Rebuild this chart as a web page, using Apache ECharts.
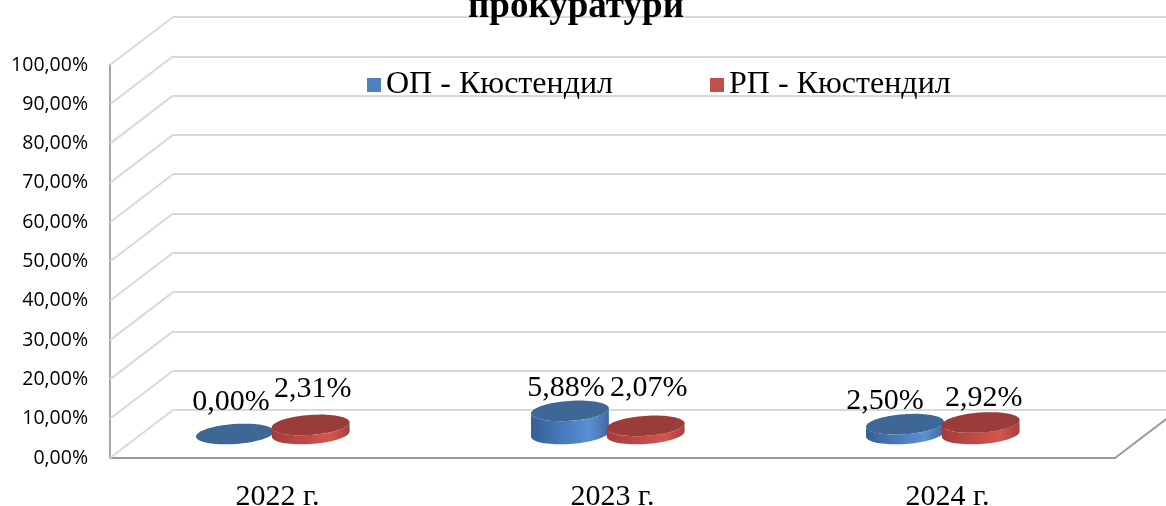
<!DOCTYPE html>
<html>
<head>
<meta charset="utf-8">
<script src="https://cdn.jsdelivr.net/npm/echarts@6/dist/echarts.min.js"></script>
<style>
  html, body { margin: 0; padding: 0; background: #ffffff; }
  #chart { width: 1166px; height: 506px; }
</style>
</head>
<body>
<div id="chart"></div>
<script>
// Categories, series values (percent) and value-axis ticks
const categories = ['2022 г.', '2023 г.', '2024 г.'];
const opValues = [0.00, 5.88, 2.50];
const rpValues = [2.31, 2.07, 2.92];
const seriesNames = ['ОП - Кюстендил', 'РП - Кюстендил'];
const yTicks = [0, 10, 20, 30, 40, 50, 60, 70, 80, 90, 100];

// Pseudo-3D box: the front plane is the main grid, the back wall is shifted by DEPTH
const DEPTH = [63, -48];
const BAR_DEPTH = 0.5;                    // cylinders stand half-way into the floor
const RX = 39, RY = 10;                   // cylinder cross-section radii
const TILT = -4 * Math.PI / 180;          // slight perspective tilt of the ellipses
const COS = Math.cos(TILT), SIN = Math.sin(TILT);
const T0 = Math.atan(-(RY / RX) * Math.tan(TILT));

// Small manual label placements [dx, dy] per bar
const labelShift = [
  [[-4, -4], [-4, 5], [-20, 5]],
  [[2, -8], [3, -10], [3, 4]]
];

const palettes = [
  { legend: '#4f81bd', top: '#3e6796',
    side: [[0, '#365f96'], [0.45, '#4a7dbf'], [0.75, '#5b90d3'], [1, '#3f6aa3']] },
  { legend: '#c0504d', top: '#993c3a',
    side: [[0, '#a63c39'], [0.45, '#c24a47'], [0.75, '#d3554f'], [1, '#aa403d']] }
];

function fmt(v) {
  return v.toFixed(2).replace('.', ',') + '%';
}

function ellipsePt(cx, cy, t) {
  return [
    cx + RX * Math.cos(t) * COS - RY * Math.sin(t) * SIN,
    cy + RX * Math.cos(t) * SIN + RY * Math.sin(t) * COS
  ];
}

function ellipsePoints(cx, cy, from, to, n) {
  const pts = [];
  for (let i = 0; i <= n; i++) {
    pts.push(ellipsePt(cx, cy, from + (to - from) * i / n));
  }
  return pts;
}

function cylinderRenderer(seriesIdx, offsetFrac) {
  const pal = palettes[seriesIdx];
  return function (params, api) {
    const cat = api.value(0);
    const val = api.value(1);
    const base = api.coord([cat, 0]);
    const top = api.coord([cat, val]);
    const band = api.size([1, 0])[0];
    const cx = base[0] + offsetFrac * band;
    const by = base[1] + DEPTH[1] * BAR_DEPTH;
    const h = base[1] - top[1];
    const ty = by - h;
    const children = [];
    if (h > 0.5) {
      const lower = ellipsePoints(cx, by, T0, T0 + Math.PI, 40);
      const upper = ellipsePoints(cx, ty, T0 + Math.PI, T0, 40);
      children.push({
        type: 'polygon',
        shape: { points: lower.concat(upper) },
        style: {
          fill: {
            type: 'linear', x: 0, y: 0, x2: 1, y2: 0,
            colorStops: pal.side.map(s => ({ offset: s[0], color: s[1] }))
          }
        }
      });
    }
    children.push({
      type: 'polygon',
      shape: { points: ellipsePoints(cx, ty, 0, Math.PI * 2, 72) },
      style: { fill: pal.top }
    });
    const sh = labelShift[seriesIdx][params.dataIndex] || [0, 0];
    children.push({
      type: 'text',
      style: {
        text: fmt(val),
        x: cx + sh[0],
        y: ty - 13 + sh[1],
        align: 'center',
        verticalAlign: 'bottom',
        font: '30px "Liberation Serif", "Times New Roman", serif',
        fill: '#000000'
      }
    });
    return { type: 'group', children: children };
  };
}

// Side-wall diagonals from the front axis to the back wall, plus the right floor edge
function frameRenderer(params, api) {
  const v = api.value(1);
  const cs = params.coordSys;
  const y = api.coord([0, v])[1];
  const children = [{
    type: 'line',
    shape: { x1: cs.x, y1: y, x2: cs.x + DEPTH[0], y2: y + DEPTH[1] },
    style: { stroke: '#d9d9d9', lineWidth: 2 }
  }];
  if (v === 0) {
    children.push({
      type: 'line',
      shape: { x1: cs.x + cs.width, y1: y, x2: cs.x + cs.width + DEPTH[0], y2: y + DEPTH[1] },
      style: { stroke: '#999999', lineWidth: 2 }
    });
  }
  return { type: 'group', children: children };
}

const chart = echarts.init(document.getElementById('chart'), null, { renderer: 'canvas' });

chart.setOption({
  backgroundColor: '#ffffff',
  animation: false,
  title: {
    text: 'прокуратури',
    left: 576,
    textAlign: 'center',
    top: -11,
    padding: 0,
    textStyle: {
      fontFamily: '"Liberation Serif", "Times New Roman", serif',
      fontWeight: 'bold',
      fontSize: 37,
      color: '#000000'
    }
  },
  legend: {
    data: seriesNames,
    left: 367,
    top: 69,
    padding: 0,
    itemWidth: 14,
    itemHeight: 14,
    itemGap: 97,
    icon: 'rect',
    textStyle: {
      fontFamily: '"Liberation Serif", "Times New Roman", serif',
      fontSize: 32,
      color: '#000000'
    }
  },
  grid: [
    { left: 110, right: 51, top: 65, bottom: 48, outerBoundsMode: 'none' },
    { left: 110 + DEPTH[0], top: 65 + DEPTH[1], width: 1005, height: 393, outerBoundsMode: 'none' }
  ],
  xAxis: [
    {
      type: 'category',
      gridIndex: 0,
      data: categories,
      axisLine: { show: true, lineStyle: { color: '#999999', width: 2 } },
      axisTick: { show: false },
      axisLabel: {
        margin: 24,
        fontFamily: '"Liberation Serif", "Times New Roman", serif',
        fontSize: 30,
        color: '#000000'
      }
    },
    {
      type: 'value',
      gridIndex: 1,
      min: 0, max: 1,
      show: false
    }
  ],
  yAxis: [
    {
      type: 'value',
      gridIndex: 0,
      min: 0, max: 100, interval: 10,
      axisLine: { show: true, lineStyle: { color: '#a6a6a6', width: 2 } },
      axisTick: { show: false },
      splitLine: { show: false },
      axisLabel: {
        margin: 22,
        fontFamily: '"Open Sans", "Noto Sans", sans-serif',
        fontSize: 19.5,
        color: '#000000',
        formatter: fmt
      }
    },
    {
      type: 'value',
      gridIndex: 1,
      min: 0, max: 100, interval: 10,
      axisLine: { show: false },
      axisTick: { show: false },
      axisLabel: { show: false },
      splitLine: { show: true, lineStyle: { color: '#d9d9d9', width: 2 } }
    }
  ],
  series: [
    {
      name: 'frame',
      type: 'custom',
      xAxisIndex: 0, yAxisIndex: 0,
      silent: true,
      clip: false,
      z: 1,
      renderItem: frameRenderer,
      encode: { x: 0, y: 1 },
      data: yTicks.map(t => [0, t])
    },
    {
      name: seriesNames[0],
      type: 'custom',
      xAxisIndex: 0, yAxisIndex: 0,
      clip: false,
      z: 3,
      itemStyle: { color: palettes[0].legend },
      renderItem: cylinderRenderer(0, -0.127),
      encode: { x: 0, y: 1 },
      data: opValues.map((v, i) => [i, v])
    },
    {
      name: seriesNames[1],
      type: 'custom',
      xAxisIndex: 0, yAxisIndex: 0,
      clip: false,
      z: 4,
      itemStyle: { color: palettes[1].legend },
      renderItem: cylinderRenderer(1, 0.099),
      encode: { x: 0, y: 1 },
      data: rpValues.map((v, i) => [i, v])
    }
  ]
});
</script>
</body>
</html>
